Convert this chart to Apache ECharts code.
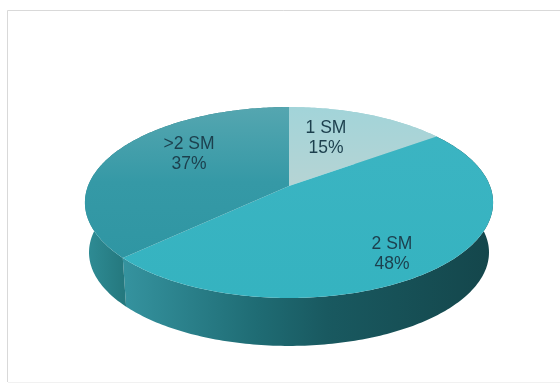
<!DOCTYPE html>
<html>
<head>
<meta charset="utf-8">
<script src="https://cdn.jsdelivr.net/npm/echarts@6/dist/echarts.min.js"></script>
<style>html,body{margin:0;padding:0;background:#fff}#main{width:560px;height:387px}</style>
</head>
<body>
<div id="main"></div>
<script>
// Share of patients by number of SM
const categories = ['1 SM', '2 SM', '>2 SM'];
const shares = [15, 48, 37];

// Perspective disc: the centre of the slice fan sits above the middle of the visible ellipse
const disc = { cx: 289, cy: 186, rx: 201, ry: 92.6, k: 0.173, depth: 50.2, baseScale: 0.98 };

const topFills = [
  [[0, '#a2d4d9'], [1, '#b6d4d4']],
  [[0, '#3bb4c2'], [1, '#35b3c0']],
  [[0, '#55a6b0'], [0.5, '#3599a6'], [1, '#2f96a3']]
];
const wallStops = [
  [[0, '#9ccfd2'], [1, '#9ccfd2']],
  [[0, '#35939f'], [0.36, '#1f6c74'], [0.55, '#195960'], [1, '#14464b']],
  [[0, '#2f8d96'], [1, '#25797f']]
];
const labelOffsets = [[37, -48], [103, 68], [-100, -31.5]];

const total = shares.reduce((a, b) => a + b, 0);

function project(theta, base) {
  const u = Math.sin(theta), v = -Math.cos(theta);
  const w = 1 - disc.k * v;
  const s = base ? disc.baseScale : 1;
  return [
    disc.cx + s * disc.rx * u / w,
    disc.cy + (base ? disc.depth : 0) + s * disc.ry * v / w
  ];
}

function sliceAngles(index) {
  let before = 0;
  for (let i = 0; i < index; i++) before += shares[i];
  const a0 = before / total * 2 * Math.PI;
  return [a0, a0 + shares[index] / total * 2 * Math.PI];
}

function rim(a0, a1, base) {
  const n = Math.max(8, Math.ceil((a1 - a0) * 60));
  const pts = [];
  for (let i = 0; i <= n; i++) pts.push(project(a0 + (a1 - a0) * i / n, base));
  return pts;
}

function stops(list) {
  return list.map(s => ({ offset: s[0], color: s[1] }));
}

function renderWall(params) {
  const [a0, a1] = sliceAngles(params.dataIndex);
  const topRim = rim(a0, a1, false);
  const pts = topRim.concat(rim(a0, a1, true).reverse());
  // Shade across the part of the wall that faces the viewer
  const front = topRim.filter(p => p[1] >= disc.cy + 17);
  const xs = (front.length ? front : topRim).map(p => p[0]);
  return {
    type: 'polygon',
    shape: { points: pts },
    style: {
      fill: {
        type: 'linear', x: Math.min(...xs), y: 0, x2: Math.max(...xs), y2: 0, global: true,
        colorStops: stops(wallStops[params.dataIndex])
      }
    }
  };
}

function renderTop(params, api) {
  const i = params.dataIndex;
  const [a0, a1] = sliceAngles(i);
  const pts = [[disc.cx, disc.cy]].concat(rim(a0, a1, false));
  const ys = pts.map(p => p[1]);
  return {
    type: 'group',
    children: [
      {
        type: 'polygon',
        shape: { points: pts },
        style: {
          fill: {
            type: 'linear', x: 0, y: Math.min(...ys), x2: 0, y2: Math.max(...ys), global: true,
            colorStops: stops(topFills[i])
          }
        }
      },
      {
        type: 'text',
        x: disc.cx + labelOffsets[i][0],
        y: disc.cy + labelOffsets[i][1],
        style: {
          text: categories[i] + '\n' + api.value(0) + '%',
          fill: '#1c3f4d',
          font: '17.5px "Liberation Sans", Arial, sans-serif',
          lineHeight: 20,
          align: 'center',
          verticalAlign: 'middle'
        }
      }
    ]
  };
}

const chart = echarts.init(document.getElementById('main'), null, { renderer: 'canvas' });
chart.setOption({
  animation: false,
  backgroundColor: '#ffffff',
  graphic: [
    {
      type: 'polyline',
      shape: { points: [[560, 10.5], [7.5, 10.5], [7.5, 382]] },
      style: { stroke: '#d9d9d9', lineWidth: 1, fill: null },
      silent: true
    },
    {
      type: 'polyline',
      shape: { points: [[8, 382.5], [560, 382.5]] },
      style: { stroke: '#f1f1f1', lineWidth: 1, fill: null },
      silent: true
    }
  ],
  series: [
    { type: 'custom', coordinateSystem: 'none', z: 1, renderItem: renderWall, data: shares },
    { type: 'custom', coordinateSystem: 'none', z: 2, renderItem: renderTop, data: shares }
  ]
});
</script>
</body>
</html>
